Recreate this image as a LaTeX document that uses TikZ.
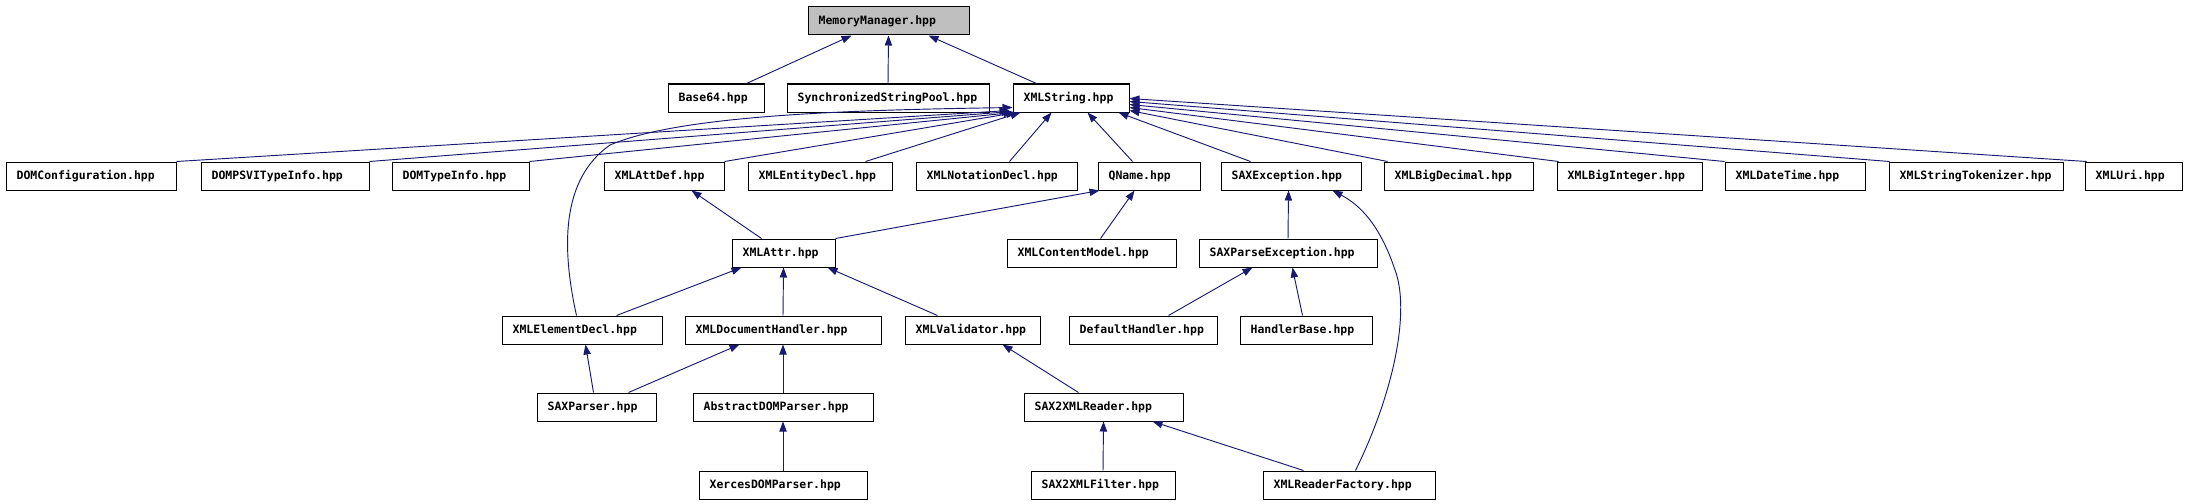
\documentclass[tikz,border=0pt]{standalone}
\usepackage{fontspec}
\setmainfont{DejaVu Sans Mono}
\usetikzlibrary{arrows.meta,calc}
\definecolor{edgeblue}{HTML}{191970}
\definecolor{boxgray}{HTML}{BFBFBF}
\tikzset{
  box/.style={draw=black, line width=0.75pt, fill=white, minimum height=21pt,
    inner xsep=8pt, inner ysep=0pt, align=left,
    font=\fontsize{8.6pt}{10pt}\selectfont\bfseries, text height=6.5pt, text depth=1.8pt},
  edge/.style={draw=edgeblue, line width=0.7pt, -{Triangle[length=7.5pt,width=5.5pt]}},
}
\newcommand\bx[6][]{%
  \pgfmathsetmacro\bxc{(#3+#4)/2}%
  \pgfmathsetmacro\bxw{(#4-#3)*0.75-16}%
  \node[box,text width=\bxw pt,#1] (#2) at (\bxc,#5+14) {#6};}
\begin{document}
\begin{tikzpicture}[x=0.75pt,y=-0.75pt]
\useasboundingbox (0,0) rectangle (2186,503);
% row 0
\bx[fill=boxgray]{MM}{808}{969}{7}{MemoryManager.hpp}
% row 1
\bx{Base64}{668}{764}{84}{Base64.hpp}
\bx{SSP}{787}{989}{84}{SynchronizedStringPool.hpp}
\bx{XMLString}{1013}{1129}{84}{XMLString.hpp}
% row 2
\bx{DOMConfiguration}{6}{176}{162}{DOMConfiguration.hpp}
\bx{DOMPSVITypeInfo}{201}{369}{162}{DOMPSVITypeInfo.hpp}
\bx{DOMTypeInfo}{392}{529}{162}{DOMTypeInfo.hpp}
\bx{XMLAttDef}{604}{724}{162}{XMLAttDef.hpp}
\bx{XMLEntityDecl}{748}{892}{162}{XMLEntityDecl.hpp}
\bx{XMLNotationDecl}{916}{1077}{162}{XMLNotationDecl.hpp}
\bx{QName}{1098}{1200}{162}{QName.hpp}
\bx{SAXException}{1221}{1361}{162}{SAXException.hpp}
\bx{XMLBigDecimal}{1384}{1533}{162}{XMLBigDecimal.hpp}
\bx{XMLBigInteger}{1557}{1702}{162}{XMLBigInteger.hpp}
\bx{XMLDateTime}{1725}{1865}{162}{XMLDateTime.hpp}
\bx{XMLStringTokenizer}{1889}{2063}{162}{XMLStringTokenizer.hpp}
\bx{XMLUri}{2085}{2182}{162}{XMLUri.hpp}
% row 3
\bx{XMLAttr}{732}{835}{239}{XMLAttr.hpp}
\bx{XMLContentModel}{1007}{1176}{239}{XMLContentModel.hpp}
\bx{SAXParseException}{1199}{1377}{239}{SAXParseException.hpp}
% row 4
\bx{XMLElementDecl}{502}{662}{316}{XMLElementDecl.hpp}
\bx{XMLDocumentHandler}{685}{881}{316}{XMLDocumentHandler.hpp}
\bx{XMLValidator}{905}{1040}{316}{XMLValidator.hpp}
\bx{DefaultHandler}{1069}{1217}{316}{DefaultHandler.hpp}
\bx{HandlerBase}{1240}{1372}{316}{HandlerBase.hpp}
% row 5
\bx{SAXParser}{537}{656}{393}{SAXParser.hpp}
\bx{AbstractDOMParser}{693}{873}{393}{AbstractDOMParser.hpp}
\bx{SAX2XMLReader}{1024}{1183}{393}{SAX2XMLReader.hpp}
% row 6
\bx{XercesDOMParser}{699}{867}{471}{XercesDOMParser.hpp}
\bx{SAX2XMLFilter}{1031}{1175}{471}{SAX2XMLFilter.hpp}
\bx{XMLReaderFactory}{1263}{1435}{471}{XMLReaderFactory.hpp}
% edges to MemoryManager
\draw[edge] ($(Base64.north west)+(79,0)$) -- ($(MM.south west)+(44,0)$);
\draw[edge] (SSP.north) -- (MM.south);
\draw[edge] ($(XMLString.north west)+(24,0)$) -- ($(MM.south west)+(121,0)$);
% edges to XMLString
\draw[edge] (DOMConfiguration.north east) -- ($(XMLString.south west)+(-3,-2)$);
\draw[edge] (DOMPSVITypeInfo.north east) -- ($(XMLString.south west)+(-1,-1)$);
\draw[edge] (DOMTypeInfo.north east) -- ($(XMLString.south west)+(1,0)$);
\draw[edge] (XMLAttDef.north east) -- ($(XMLString.south west)+(4,0)$);
\draw[edge] ($(XMLEntityDecl.north west)+(118,0)$) -- ($(XMLString.south west)+(8,0)$);
\draw[edge] ($(XMLElementDecl.north west)+(75,0)$) .. controls (562,250) and (560,180) .. (610,145) .. controls (680,115) and (850,110) .. ($(XMLString.south west)+(0,-5)$);
\draw[edge] ($(XMLNotationDecl.north west)+(94,0)$) -- ($(XMLString.south west)+(39,0)$);
\draw[edge] ($(QName.north west)+(35,0)$) -- ($(XMLString.south west)+(75,0)$);
\draw[edge] ($(SAXException.north west)+(30,0)$) -- ($(XMLString.south west)+(106,0)$);
\draw[edge] ($(XMLBigDecimal.north west)+(4,0)$) -- ($(XMLString.south east)+(0,-2)$);
\draw[edge] ($(XMLBigInteger.north west)+(2,0)$) -- ($(XMLString.south east)+(0,-5)$);
\draw[edge] (XMLDateTime.north west) -- ($(XMLString.south east)+(0,-8)$);
\draw[edge] ($(XMLStringTokenizer.north west)+(1,0)$) -- ($(XMLString.south east)+(0,-11)$);
\draw[edge] ($(XMLUri.north west)+(2,0)$) -- ($(XMLString.south east)+(0,-14)$);
% row 3 edges
\draw[edge] ($(XMLAttr.north west)+(30,0)$) -- ($(XMLAttDef.south west)+(88,0)$);
\draw[edge] (XMLAttr.north east) -- ($(QName.south west)+(2,0)$);
\draw[edge] ($(XMLContentModel.north west)+(94,0)$) -- ($(QName.south west)+(37,0)$);
\draw[edge] (SAXParseException.north) -- ($(SAXException.south west)+(68,0)$);
\draw[edge] ($(XMLReaderFactory.north west)+(93,0)$) .. controls (1395,390) and (1410,310) .. (1395,270) .. controls (1380,225) and (1360,205) .. ($(SAXException.south west)+(112,0)$);
% row 4 edges
\draw[edge] ($(XMLElementDecl.north west)+(115,0)$) -- ($(XMLAttr.south west)+(10,0)$);
\draw[edge] (XMLDocumentHandler.north) -- (XMLAttr.south);
\draw[edge] ($(XMLValidator.north west)+(33,0)$) -- ($(XMLAttr.south west)+(96,0)$);
\draw[edge] ($(DefaultHandler.north west)+(100,0)$) -- ($(SAXParseException.south west)+(54,0)$);
\draw[edge] ($(HandlerBase.north west)+(63,0)$) .. controls (1298,296) .. ($(SAXParseException.south west)+(94,0)$);
% row 5 edges
\draw[edge] ($(SAXParser.north west)+(57,0)$) -- ($(XMLElementDecl.south west)+(84,0)$);
\draw[edge] ($(SAXParser.north west)+(92,0)$) -- ($(XMLDocumentHandler.south west)+(55,0)$);
\draw[edge] (AbstractDOMParser.north) -- (XMLDocumentHandler.south);
\draw[edge] ($(SAX2XMLReader.north west)+(55,0)$) -- ($(XMLValidator.south west)+(98,0)$);
% row 6 edges
\draw[edge] (XercesDOMParser.north) -- (AbstractDOMParser.south);
\draw[edge] (SAX2XMLFilter.north) -- (SAX2XMLReader.south);
\draw[edge] ($(XMLReaderFactory.north west)+(41,0)$) -- ($(SAX2XMLReader.south west)+(129,0)$);
\end{tikzpicture}
\end{document}
